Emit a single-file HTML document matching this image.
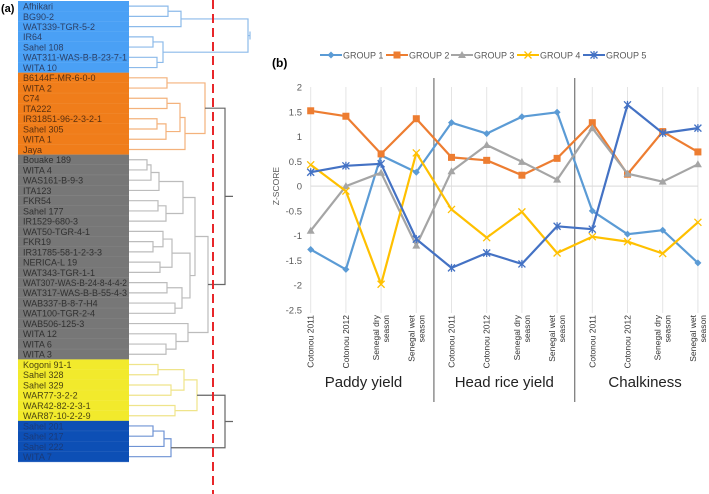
<!DOCTYPE html>
<html><head><meta charset="utf-8"><style>
body{margin:0;background:#fff;width:709px;height:494px;overflow:hidden;font-family:"Liberation Sans",sans-serif}
svg{display:block}
</style></head><body>
<svg id="fig" width="709" height="494" xmlns="http://www.w3.org/2000/svg">
<text x="1" y="12" font-size="11" font-weight="bold">(a)</text>
<text x="272" y="67" font-size="12" font-weight="bold">(b)</text>
<g id="dendro"></g>
<g id="chart"></g>
</svg>
<script>
const NS="http://www.w3.org/2000/svg";
function mk(parent,tag,attrs,text){const e=document.createElementNS(NS,tag);for(const k in attrs)e.setAttribute(k,attrs[k]);if(text!==undefined)e.textContent=text;parent.appendChild(e);return e;}

// ---------- Dendrogram ----------
const genotypes=["Afhikari","BG90-2","WAT339-TGR-5-2","IR64","Sahel 108","WAT311-WAS-B-B-23-7-1","WITA 10",
"B6144F-MR-6-0-0","WITA 2","C74","ITA222","IR31851-96-2-3-2-1","Sahel 305","WITA 1","Jaya",
"Bouake 189","WITA 4","WAS161-B-9-3","ITA123","FKR54","Sahel 177","IR1529-680-3","WAT50-TGR-4-1","FKR19","IR31785-58-1-2-3-3","NERICA-L 19","WAT343-TGR-1-1","WAT307-WAS-B-24-8-4-4-2","WAT317-WAS-B-B-55-4-3","WAB337-B-8-7-H4","WAT100-TGR-2-4","WAB506-125-3","WITA 12","WITA 6","WITA 3",
"Kogoni 91-1","Sahel 328","Sahel 329","WAR77-3-2-2","WAR42-82-2-3-1","WAR87-10-2-2-9",
"Sahel 201","Sahel 217","Sahel 222","WITA 7"];
const groupOf=[0,0,0,0,0,0,0,1,1,1,1,1,1,1,1,2,2,2,2,2,2,2,2,2,2,2,2,2,2,2,2,2,2,2,2,3,3,3,3,3,3,4,4,4,4];
const bg=["#4aa0f5","#f07d1a","#777777","#f2ea2c","#0d4fb5"];
const fg=["#2b3f66","#5a3010","#303030","#4a4410","#1a3a78"];
const lc=["#8cbaea","#f4b27c","#bcbcbc","#efe48a","#6f93d4"];
const D=document.getElementById('dendro');
const RH=10.24,Y0=1,LX=18,LW=111;
function rowY(i){return Y0+RH*(i+0.5);}
genotypes.forEach((g,i)=>{
  const r=mk(D,'rect',{x:LX,y:Y0+RH*i,width:LW,height:RH+0.3,fill:bg[groupOf[i]]});
  
  
  mk(D,'line',{x1:LX,x2:LX+LW,y1:Y0+RH*(i+1),y2:Y0+RH*(i+1),stroke:'rgba(255,255,255,0.18)','stroke-width':0.6});
  const attrs={x:23,y:rowY(i)+3.4,'font-size':9,fill:fg[groupOf[i]]};
  if(g.length>20){attrs.textLength=104;attrs.lengthAdjust='spacingAndGlyphs';}
  const t=mk(D,'text',attrs,g);
  
  
});
const o=15;
const trees=[
 [248,[181,[168,0,1],2],[163,[153,3,4],[157,5,6]]],
 [205,[167,7,8],[185,[180,[167,9,10],[166,[157,11,12],13]],14]],
 [208,[195,[183,[159,[151,[147,o+0,o+1],o+2],o+3],[166,[158,o+4,o+5],o+6]],[190,[172,[163,o+7,[153,o+8,o+9]],[160,o+10,o+11]],[182,[167,o+12,o+13],[175,o+14,o+15]]]],[188,o+16,[176,o+17,[166,o+18,o+19]]]],
 [197,[184,[158,35,36],[171,37,38]],[175,39,40]],
 [171,[164,[153,41,42],43],44]
];
function draw(node,col){
  if(typeof node==='number')return {x:LX+LW,y:rowY(node)};
  const a=draw(node[1],col),b=draw(node[2],col),h=node[0];
  mk(D,'path',{d:`M${a.x},${a.y}H${h}V${b.y}H${b.x}`,fill:'none',stroke:col,'stroke-width':1.2});
  return {x:h,y:(a.y+b.y)/2};
}
const roots=trees.map((t,k)=>draw(t,lc[k]));
const dk="#666";
mk(D,'path',{d:`M${roots[0].x},${roots[0].y}H250M250,${roots[0].y-4}V${roots[0].y+4}`,stroke:lc[0],fill:'none','stroke-width':1.2});
mk(D,'path',{d:`M${roots[1].x},${roots[1].y}H225V${roots[2].y}H${roots[2].x}M225,${(roots[1].y+roots[2].y)/2}H233`,stroke:dk,fill:'none','stroke-width':1.2});
mk(D,'path',{d:`M${roots[3].x},${roots[3].y}H225V${roots[4].y}H${roots[4].x}M225,${(roots[3].y+roots[4].y)/2}H233`,stroke:dk,fill:'none','stroke-width':1.2});
const cut=mk(D,'line',{x1:213,x2:213,y1:0,y2:494,stroke:'#e8262a','stroke-width':2,'stroke-dasharray':'9,5'});



// ---------- Chart ----------
const categories=["Cotonou 2011","Cotonou 2012","Senegal dry|season","Senegal wet|season","Cotonou 2011","Cotonou 2012","Senegal dry|season","Senegal wet|season","Cotonou 2011","Cotonou 2012","Senegal dry|season","Senegal wet|season"];
const traitGroups=["Paddy yield","Head rice yield","Chalkiness"];
const seriesNames=["GROUP 1","GROUP 2","GROUP 3","GROUP 4","GROUP 5"];
const group1=[-1.28,-1.68,0.62,0.28,1.28,1.06,1.40,1.49,-0.50,-0.97,-0.89,-1.55];
const group2=[1.52,1.41,0.65,1.36,0.58,0.52,0.22,0.56,1.28,0.24,1.10,0.69];
const group3=[-0.90,0.00,0.27,-1.20,0.30,0.83,0.49,0.13,1.17,0.25,0.09,0.44];
const group4=[0.43,-0.10,-1.98,0.67,-0.47,-1.04,-0.52,-1.35,-1.02,-1.12,-1.36,-0.73];
const group5=[0.28,0.41,0.45,-1.07,-1.65,-1.35,-1.57,-0.81,-0.87,1.64,1.07,1.17];
const yTicks=[2,1.5,1,0.5,0,-0.5,-1,-1.5,-2,-2.5];
const seriesData=[group1,group2,group3,group4,group5];
const colors=["#5b9bd5","#ed7d31","#a5a5a5","#ffc000","#4472c4"];
const markers=["diamond","square","triangle","x","star"];

const C=document.getElementById('chart');
const yTop=87,yBot=310,vMax=2,vMin=-2.5,xFirst=310.7,xStep=35.2;
function yS(v){return yTop+(vMax-v)*(yBot-yTop)/(vMax-vMin);}
function xS(i){return xFirst+i*xStep;}

categories.forEach((c,i)=>{
  const g=mk(C,'line',{x1:xS(i),x2:xS(i),y1:yTop,y2:yBot+3,stroke:'#e4e4e4','stroke-width':1});
  
  
  const parts=c.split('|');
  const t=mk(C,'text',{transform:`translate(${xS(i)},${yBot+5}) rotate(-90)`,'font-size':8.5,fill:'#333','text-anchor':'end'});
  
  
  parts.forEach((p,k)=>{mk(t,'tspan',{x:0,dy:k===0?(parts.length>1?-2:3):10},p);});
});
mk(C,'line',{x1:xFirst,x2:xS(categories.length-1),y1:yS(0),y2:yS(0),stroke:'#d9d9d9','stroke-width':1});
yTicks.forEach(v=>{
  const t=mk(C,'text',{x:302,y:yS(v)+3.5,'font-size':9.5,fill:'#595959','text-anchor':'end'},String(v));
  
  
});
const yt=mk(C,'text',{transform:`translate(279,${yS(0)}) rotate(-90)`,'font-size':8.5,fill:'#595959','text-anchor':'middle'},'Z-SCORE');


[1,2].forEach(k=>{
  const x=(xS(4*k-1)+xS(4*k))/2;
  const d=mk(C,'line',{x1:x,x2:x,y1:78,y2:402,stroke:'#7f7f7f','stroke-width':1.3});
  
  
});
traitGroups.forEach((g,k)=>{
  const x=(xS(4*k)+xS(4*k+3))/2;
  const t=mk(C,'text',{x:x,y:387,'font-size':15,fill:'#222','text-anchor':'middle'},g);
  
  
});
function marker(p,type,x,y,col){
  if(type==='diamond')return mk(p,'path',{d:`M${x},${y-3.5}L${x+3.5},${y}L${x},${y+3.5}L${x-3.5},${y}Z`,fill:col});
  if(type==='square')return mk(p,'rect',{x:x-3.5,y:y-3.5,width:7,height:7,fill:col});
  if(type==='triangle')return mk(p,'path',{d:`M${x},${y-4}L${x+4},${y+3}L${x-4},${y+3}Z`,fill:col});
  if(type==='x')return mk(p,'path',{d:`M${x-3.5},${y-3.5}L${x+3.5},${y+3.5}M${x+3.5},${y-3.5}L${x-3.5},${y+3.5}`,stroke:col,'stroke-width':1.3,fill:'none'});
  return mk(p,'path',{d:`M${x-3.5},${y-3.5}L${x+3.5},${y+3.5}M${x+3.5},${y-3.5}L${x-3.5},${y+3.5}M${x},${y-4}V${y+4}`,stroke:col,'stroke-width':1.3,fill:'none'});
}
seriesData.forEach((vals,s)=>{
  const g=mk(C,'g',{});
  
  
  const pts=vals.map((v,i)=>xS(i).toFixed(1)+','+yS(v).toFixed(1)).join(' ');
  const l=mk(g,'polyline',{points:pts,fill:'none',stroke:colors[s],'stroke-width':2.2,'stroke-linejoin':'round'});
  
  
  vals.forEach((v,i)=>{
    const m=marker(g,markers[s],xS(i),yS(v),colors[s]);
    
    
  });
});
const legX=[320,386,451,517,583];
seriesNames.forEach((n,s)=>{
  const g=mk(C,'g',{});
  
  
  mk(g,'line',{x1:legX[s],x2:legX[s]+22,y1:55,y2:55,stroke:colors[s],'stroke-width':2});
  marker(g,markers[s],legX[s]+11,55,colors[s]);
  mk(g,'text',{x:legX[s]+23,y:58.5,'font-size':9,fill:'#595959'},n);
});
</script>
</body></html>
